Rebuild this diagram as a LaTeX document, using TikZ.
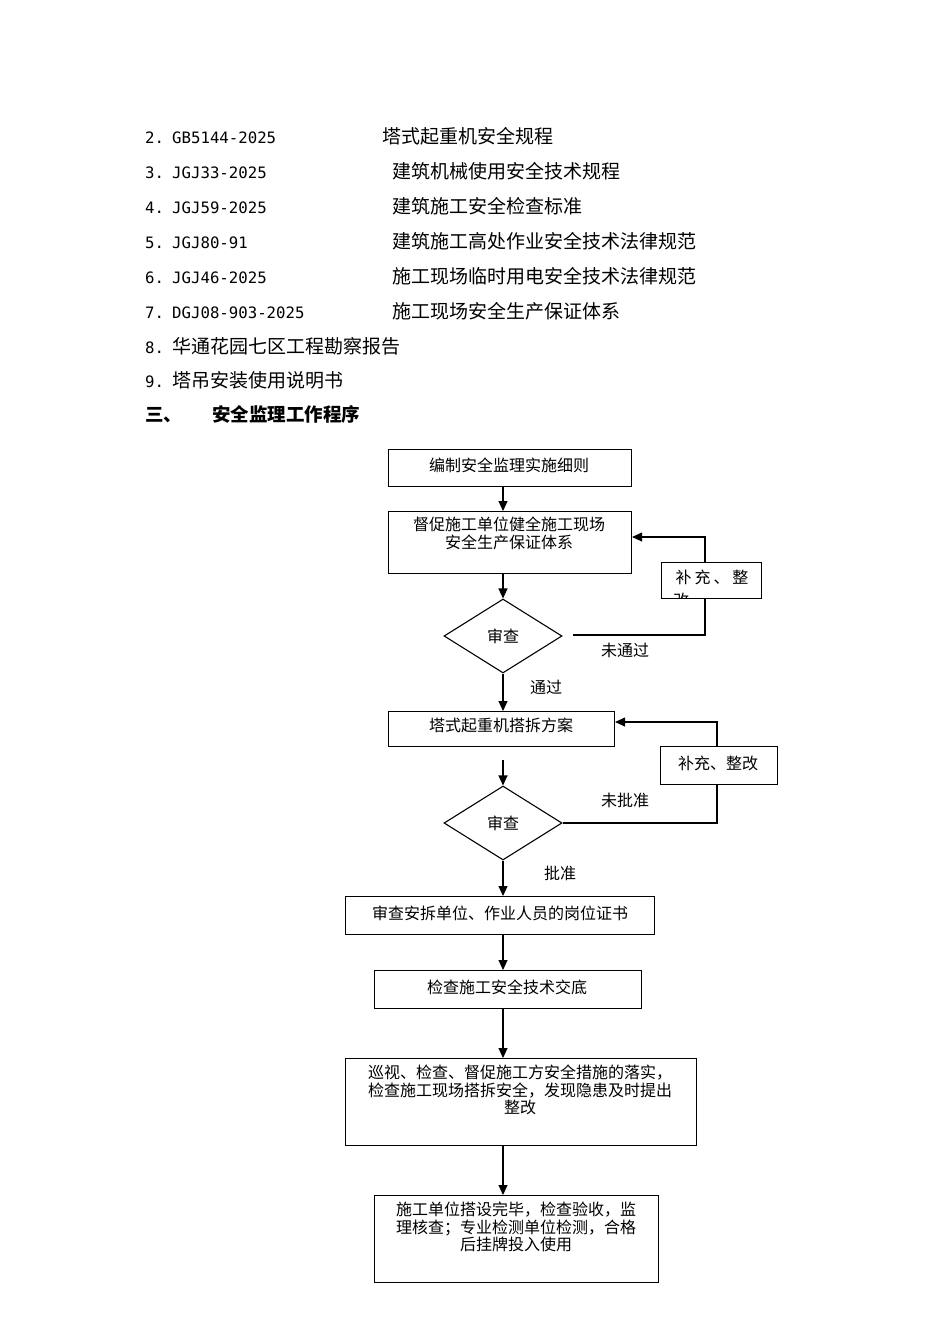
\documentclass[tikz,border=0pt]{standalone}
\usepackage{fontspec}
\setmainfont{Noto Sans CJK SC}
\newfontfamily\monofam{DejaVu Sans Mono}
\usetikzlibrary{arrows.meta,shapes.geometric}
\begin{document}
\begin{tikzpicture}[x=1pt,y=-1pt,
  box/.style={draw, line width=1.1pt, anchor=north west, inner sep=0pt, fill=white},
  txt/.style={inner sep=0pt, font=\fontsize{16}{17.5}\selectfont, align=center},
  lstc/.style={inner sep=0pt, anchor=base west, font=\fontsize{19}{20}\selectfont},
  lstm/.style={inner sep=0pt, anchor=base west, font=\monofam\fontsize{15.7}{20}\selectfont},
  dia/.style={draw, line width=1.1pt, diamond, inner sep=0pt, minimum width=118pt, minimum height=74pt, font=\fontsize{16}{17.5}\selectfont},
  arr/.style={line width=1.1pt, -{Triangle[length=10pt,width=9pt]}},
  ln/.style={line width=1.1pt}]
\useasboundingbox (0,0) rectangle (950,1344);

% ---- reference list ----
\node[lstm] (n2) at (145,143) {2.};
\node[lstm] (m2) at (172,143) {GB5144-2025};
\node[lstc] (c2) at (382,143) {塔式起重机安全规程};
\node[lstm] (n3) at (145,178) {3.};
\node[lstm] (m3) at (172,178) {JGJ33-2025};
\node[lstc] (c3) at (392,178) {建筑机械使用安全技术规程};
\node[lstm] (n4) at (145,213) {4.};
\node[lstm] (m4) at (172,213) {JGJ59-2025};
\node[lstc] (c4) at (392,213) {建筑施工安全检查标准};
\node[lstm] (n5) at (145,248) {5.};
\node[lstm] (m5) at (172,248) {JGJ80-91};
\node[lstc] (c5) at (392,248) {建筑施工高处作业安全技术法律规范};
\node[lstm] (n6) at (145,283) {6.};
\node[lstm] (m6) at (172,283) {JGJ46-2025};
\node[lstc] (c6) at (392,283) {施工现场临时用电安全技术法律规范};
\node[lstm] (n7) at (145,318) {7.};
\node[lstm] (m7) at (172,318) {DGJ08-903-2025};
\node[lstc] (c7) at (392,318) {施工现场安全生产保证体系};
\node[lstm] (n8) at (145,353) {8.};
\node[lstc] (c8) at (172,353) {华通花园七区工程勘察报告};
\node[lstm] (n9) at (145,387) {9.};
\node[lstc] (c9) at (172,387) {塔吊安装使用说明书};
\node[lstc, font=\bfseries\fontsize{18.5}{20}\selectfont] (h1) at (145,421) {三、};
\node[lstc, font=\bfseries\fontsize{18.5}{20}\selectfont] (h2) at (212,421) {安全监理工作程序};

% ---- flowchart ----
\node[box, minimum width=243pt, minimum height=37pt] (b1) at (388,449) {};
\node[txt] (t1) at (509,465) {编制安全监理实施细则};

\node[box, minimum width=243pt, minimum height=62pt] (b2) at (388,511) {};
\node[txt, anchor=north] (t2) at (509,517) {督促施工单位健全施工现场\\安全生产保证体系};

\node[dia] (d1) at (503,636) {审查};

\node[box, minimum width=226pt, minimum height=35pt] (b3) at (388,711) {};
\node[txt] (t3) at (501,725) {塔式起重机搭拆方案};

\node[dia] (d2) at (503,823) {审查};

\node[box, minimum width=309pt, minimum height=38pt] (b4) at (345,896) {};
\node[txt] (t4) at (500,913) {审查安拆单位、作业人员的岗位证书};

\node[box, minimum width=267pt, minimum height=38pt] (b5) at (374,970) {};
\node[txt] (t5) at (507,987) {检查施工安全技术交底};

\node[box, minimum width=351pt, minimum height=87pt] (b6) at (345,1058) {};
\node[txt, anchor=north] (t6) at (520,1065) {巡视、检查、督促施工方安全措施的落实，\\检查施工现场搭拆安全，发现隐患及时提出\\整改};

\node[box, minimum width=284pt, minimum height=87pt] (b7) at (374,1195) {};
\node[txt, anchor=north] (t7) at (516,1202) {施工单位搭设完毕，检查验收，监\\理核查；专业检测单位检测，合格\\后挂牌投入使用};

% main arrows
\draw[arr] (b1.south -| d1) -- (b2.north -| d1);
\draw[arr] (b2.south -| d1) -- (d1.north);
\draw[arr] (d1.south) -- (b3.north -| d1);
\coordinate (s3) at (503,760);
\draw[arr] (s3) -- (d2.north);
\draw[arr] (d2.south) -- (b4.north -| d2);
\draw[arr] (b4.south -| d2) -- (b5.north -| d2);
\draw[arr] (b5.south -| d2) -- (b6.north -| d2);
\draw[arr] (b6.south -| d2) -- (b7.north -| d2);

% feedback loop 1
\coordinate (f1) at (573,635);
\coordinate (k1) at (705,537);
\draw[arr] (f1) -| (k1) -- (k1 -| b2.east);
\node[box, minimum width=100pt, minimum height=36pt] (r1) at (661,562) {};
\node[txt] (r1t) at (712,577) {补\hspace{3pt}充\hspace{3pt}、\hspace{3pt}整};
\begin{scope}
  \clip (661,562) rectangle (761,597);
  \node[txt, anchor=north] (r1u) at (681,593) {改};
\end{scope}
\node[txt] (l1) at (625,650) {未通过};
\node[txt] (l2) at (546,687) {通过};

% feedback loop 2
\coordinate (k2) at (717,722);
\draw[arr] (d2.east) -| (k2) -- (k2 -| b3.east);
\node[box, minimum width=117pt, minimum height=38pt] (r2) at (660,746) {};
\node[txt] (r2t) at (718,763) {补充、整改};
\node[txt] (l3) at (625,800) {未批准};
\node[txt] (l4) at (560,873) {批准};
\end{tikzpicture}
\end{document}
